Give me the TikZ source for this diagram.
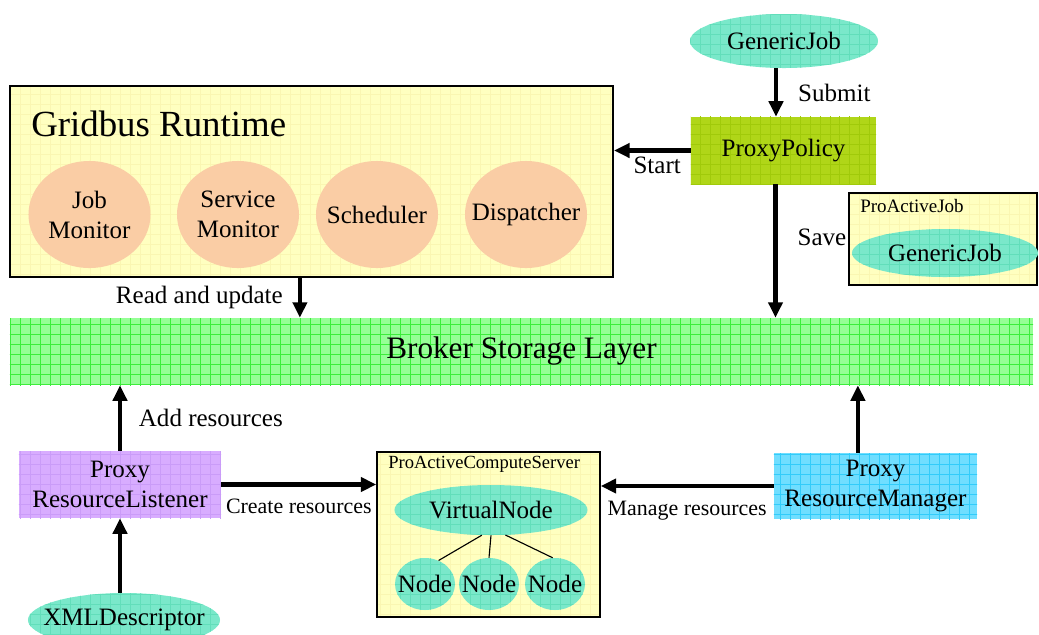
\documentclass[tikz,border=0pt]{standalone}
\usepackage{fontspec}
\setmainfont{Liberation Serif}
\usepackage{tikz}
\usetikzlibrary{calc,shapes,arrows.meta,positioning,patterns}

\definecolor{paneyellow}{RGB}{255,255,192}
\definecolor{paneline}{RGB}{250,246,178}
\definecolor{peach}{RGB}{250,205,165}
\definecolor{jobteal}{RGB}{122,232,202}
\definecolor{tealline}{RGB}{98,222,186}
\definecolor{policylime}{RGB}{176,214,24}
\definecolor{limeline}{RGB}{160,202,10}
\definecolor{brokergreen}{RGB}{150,255,150}
\definecolor{brokerline}{RGB}{60,238,60}
\definecolor{listenerlav}{RGB}{216,172,255}
\definecolor{lavline}{RGB}{202,156,248}
\definecolor{managercyan}{RGB}{112,222,255}
\definecolor{cyanline}{RGB}{50,204,250}

% grid texture of the fills, one cell = 10px
\pgfdeclarepatternformonly{cellgrid}{\pgfqpoint{-1pt}{-1pt}}{\pgfqpoint{8pt}{8pt}}{\pgfqpoint{7.11pt}{7.11pt}}{%
	\pgfsetlinewidth{0.5pt}
	\pgfpathmoveto{\pgfqpoint{0pt}{0pt}}
	\pgfpathlineto{\pgfqpoint{0pt}{7.2pt}}
	\pgfpathmoveto{\pgfqpoint{0pt}{0pt}}
	\pgfpathlineto{\pgfqpoint{7.2pt}{0pt}}
	\pgfusepath{stroke}}

\begin{document}
\begin{tikzpicture}[x=0.025cm,y=-0.025cm]
			\tikzstyle{every node}+=[inner sep=0pt, font=\fontsize{17.8}{21.3}\selectfont]
			\tikzstyle{pane}=[fill=paneyellow, postaction={pattern=cellgrid, pattern color=paneline}, postaction={draw=black}]
			\tikzstyle{job}=[ellipse, inner xsep=-0.4cm, fill=jobteal, postaction={pattern=cellgrid, pattern color=tealline}]
			\tikzstyle{part}=[ellipse, inner xsep=-0.4cm, fill=peach, minimum width=3.05cm, minimum height=2.675cm, align=center]
			\tikzstyle{flow}=[black, line width=3pt, -{Triangle[length=11pt,width=10pt]}]
			\tikzstyle{smalltext}=[font=\fontsize{15.6}{18}\selectfont]
			\useasboundingbox (0,0) rectangle (1039,634);
			% runtime
			\node [pane, line width=1.4pt, minimum width=15.075cm, minimum height=4.775cm] (runtime) at (311.5,181.5) {};
			\node [anchor=west, font=\fontsize{26.2}{30}\selectfont] (rttitle) at (31,124) {Gridbus Runtime};
			\node [part] (jobmon) at (89.5,214.5) {Job\\Monitor};
			\node [part] (svcmon) at (238,214.5) {Service\\Monitor};
			\node [part] (sched) at (377,214.5) {Scheduler};
			\node [part] (disp) at (526,214.5) {Dispatcher};
			% policy side
			\node [job, minimum width=4.7cm, minimum height=1.35cm] (genjob) at (784,41) {GenericJob};
			\node [fill=policylime, postaction={pattern=cellgrid, pattern color=limeline}, minimum width=4.625cm, minimum height=1.675cm] (policy) at (783.5,150.5) {ProxyPolicy};
			\node [pane, line width=1pt, minimum width=4.7cm, minimum height=2.3cm] (pajob) at (943,239) {};
			\node [anchor=west, font=\fontsize{13.5}{16}\selectfont] (pajtitle) at (860,206) {ProActiveJob};
			\node [job, minimum width=4.65cm, minimum height=1.2cm] (savedjob) at (945,253) {GenericJob};
			% storage
			\node [fill=brokergreen, postaction={pattern=cellgrid, pattern color=brokerline}, minimum width=25.575cm, minimum height=1.675cm, font=\fontsize{22.2}{26}\selectfont] (broker) at (521.5,351.5) {Broker Storage Layer};
			% resources
			\node [fill=listenerlav, postaction={pattern=cellgrid, pattern color=lavline}, minimum width=5.05cm, minimum height=1.675cm, align=center] (listener) at (120,484.5) {Proxy\\ResourceListener};
			\node [job, minimum width=4.8cm, minimum height=1.35cm] (xmldesc) at (124,620) {XMLDescriptor};
			\node [fill=managercyan, postaction={pattern=cellgrid, pattern color=cyanline}, minimum width=5.075cm, minimum height=1.65cm, align=center] (manager) at (875.5,486) {Proxy\\ResourceManager};
			\node [pane, line width=1pt, minimum width=5.575cm, minimum height=4.125cm] (server) at (488.5,534.5) {};
			\node [anchor=west, font=\fontsize{13.2}{16}\selectfont] (srvtitle) at (388,464) {ProActiveComputeServer};
			\node [job, minimum width=4.825cm, minimum height=1.25cm] (vnode) at (491,510) {VirtualNode};
			\node [job, minimum width=1.5cm, minimum height=1.3cm] (node1) at (425,584) {Node};
			\node [job, minimum width=1.5cm, minimum height=1.3cm] (node2) at (489,584) {Node};
			\node [job, minimum width=1.5cm, minimum height=1.3cm] (node3) at (555,584) {Node};
			\draw [black, line width=0.8pt] (vnode.250) -- (node1.60);
			\draw [black, line width=0.8pt] (vnode.south) -- (node2.north);
			\draw [black, line width=0.8pt] (vnode.300) -- (node3.95);
			% arrows
			\coordinate (submitin) at ([xshift=-0.2cm]genjob.south);
			\coordinate (saveout) at ([xshift=-0.2cm]policy.south);
			\coordinate (readout) at ([xshift=-0.29cm]runtime.south);
			\coordinate (manageout) at ([xshift=-0.44cm]manager.north);
			\draw [flow] (submitin) -- node [right=0.5cm] {Submit} (submitin |- policy.north);
			\draw [flow] (policy.west) -- node [below=0.12cm, xshift=0.12cm] {Start} (policy.west -| runtime.east);
			\draw [flow] (saveout) -- node [pos=0.4, right=0.5cm] {Save} (saveout |- broker.north);
			\draw [flow] (readout) -- node [left=0.375cm] {Read and update} (readout |- broker.north);
			\draw [flow] (listener.north) -- node [right=0.42cm] {Add resources} (listener.north |- broker.south);
			\draw [flow] (listener.south |- xmldesc.north) -- (listener.south);
			\draw [flow] (listener.east) -- node [smalltext, below=0.3cm] {Create resources} (listener.east -| server.west);
			\draw [flow] (manager.west) -- node [smalltext, below=0.33cm] {Manage resources} (manager.west -| server.east);
			\draw [flow] (manageout) -- (manageout |- broker.south);
		\end{tikzpicture}
\end{document}
